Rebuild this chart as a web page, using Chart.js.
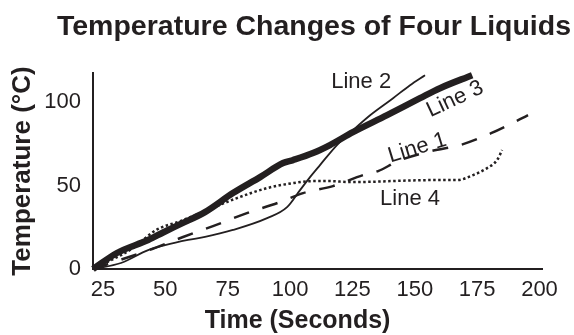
<!DOCTYPE html>
<html><head><meta charset="utf-8">
<script src="https://cdn.jsdelivr.net/npm/chart.js@4.4.1/dist/chart.umd.min.js"></script>
<style>html,body{margin:0;padding:0;background:#fff}#wrap{width:574px;height:335px}</style>
</head><body><div id="wrap"><canvas id="c" width="574" height="335"></canvas></div>
<script>
const chartTitle = 'Temperature Changes of Four Liquids';
const xAxisTitle = 'Time (Seconds)';
const yAxisTitle = 'Temperature (°C)';
const xTickValues = [25, 50, 75, 100, 125, 150, 175, 200];
const yTickValues = [0, 50, 100];
const seriesNames = ['Line 1', 'Line 2', 'Line 3', 'Line 4'];

const line1Time = [21, 44.7, 57.1, 69.1, 82.7, 96.0, 105.2, 117.2, 129.3, 135.3, 143.3, 156.5, 168.2, 180.6, 192.2, 195.4];
const line1Temp = [0, 12.0, 19.2, 25.7, 33.5, 40.1, 45.5, 49.7, 56.3, 58.7, 64.7, 70.7, 74.3, 81.4, 89.8, 92.2];

const line2Time = [21, 32.2, 43.1, 49.9, 59.1, 65.9, 77.1, 90.8, 98.8, 104.0, 108.0, 112.0, 118.8, 125.2, 132.1, 141.3, 148.1, 154.1];
const line2Temp = [0, 3.6, 11.3, 14.3, 17.4, 19.2, 23.4, 30.5, 37.1, 47.3, 55.1, 62.3, 74.3, 83.2, 92.2, 102.4, 110.2, 116.2];

const line3Time = [21, 30.6, 43.1, 49.1, 56.0, 65.9, 77.1, 88.0, 97.2, 101.2, 109.2, 116.0, 125.2, 138.9, 152.1, 160.1, 173.0];
const line3Temp = [0, 9.6, 17.4, 21.9, 26.9, 34.1, 45.5, 55.1, 63.5, 65.3, 69.5, 74.3, 82.0, 92.2, 102.4, 108.4, 116.2];

const line4Time = [21, 37.0, 46.3, 56.0, 65.9, 78.7, 90.8, 101.2, 109.2, 116.0, 124.0, 157.3, 166.9, 173.4, 179.0, 183.0, 185.0];
const line4Temp = [0, 12.5, 23.4, 28.7, 34.7, 42.5, 48.5, 51.5, 52.7, 52.7, 52.1, 53.3, 53.3, 56.3, 60.5, 65.3, 71.3];

// label anchors in data units: [time, temperature, rotation degrees]
const labelAnchors = {
  'Line 1': [151, 72.5, -17],
  'Line 2': [128.5, 112, 0],
  'Line 3': [166.2, 101.8, -25],
  'Line 4': [148.1, 41.9, 0]
};

const pts = (xs, ys) => xs.map((x, i) => ({x: x, y: ys[i]}));
const FONT = '"Liberation Sans", Arial, Helvetica, sans-serif';
const INK = '#231f20';

const textPlugin = {
  id: 'textPlugin',
  afterDraw(chart) {
    const ctx = chart.ctx, xs = chart.scales.x, ys = chart.scales.y;
    ctx.save();
    ctx.fillStyle = INK;
    ctx.textAlign = 'center';
    // chart title
    ctx.textBaseline = 'alphabetic';
    ctx.font = 'bold 28.5px ' + FONT;
    ctx.fillText(chartTitle, 314, 35);
    // line labels
    ctx.textBaseline = 'middle';
    ctx.font = '22px ' + FONT;
    seriesNames.forEach(n => {
      const a = labelAnchors[n];
      ctx.save();
      ctx.translate(xs.getPixelForValue(a[0]), ys.getPixelForValue(a[1]));
      ctx.rotate(a[2] * Math.PI / 180);
      ctx.fillText(n, 0, 0);
      ctx.restore();
    });
    // x axis title
    ctx.font = 'bold 25px ' + FONT;
    ctx.fillText(xAxisTitle, xs.getPixelForValue(103), 321);
    ctx.restore();
  }
};

new Chart(document.getElementById('c'), {
  type: 'line',
  data: {
    datasets: [
      {label: 'Line 3', data: pts(line3Time, line3Temp), borderColor: INK, borderWidth: 6.5, borderCapStyle: 'butt', borderJoinStyle: 'round'},
      {label: 'Line 2', data: pts(line2Time, line2Temp), borderColor: INK, borderWidth: 1.8},
      {label: 'Line 1', data: pts(line1Time, line1Temp), borderColor: INK, borderWidth: 2.5, borderDash: [16, 14], borderCapStyle: 'butt'},
      {label: 'Line 4', data: pts(line4Time, line4Temp), borderColor: INK, borderWidth: 2.5, borderDash: [2.5, 2.5], borderCapStyle: 'butt'}
    ]
  },
  options: {
    responsive: false,
    animation: false,
    events: [],
    elements: {
      point: {radius: 0},
      line: {cubicInterpolationMode: 'monotone', fill: false}
    },
    datasets: {line: {clip: false}},
    layout: {padding: {left: 0, right: 32, top: 73, bottom: 0}},
    plugins: {
      legend: {display: false},
      tooltip: {enabled: false},
      title: {display: false}
    },
    scales: {
      x: {
        type: 'linear',
        min: 21, max: 201,
        afterBuildTicks: s => { s.ticks = xTickValues.map(v => ({value: v})); },
        afterFit: s => { s.height = 66; },
        grid: {display: false, drawTicks: false},
        border: {display: true, color: INK, width: 2},
        ticks: {color: INK, font: {family: FONT, size: 22}, padding: 8, maxRotation: 0, autoSkip: false}
      },
      y: {
        type: 'linear',
        min: 0, max: 117.5,
        afterBuildTicks: s => { s.ticks = yTickValues.map(v => ({value: v})); },
        afterFit: s => { s.width = 93; },
        grid: {display: false, drawTicks: false},
        border: {display: true, color: INK, width: 2},
        ticks: {color: INK, font: {family: FONT, size: 22}, padding: 12},
        title: {display: true, text: yAxisTitle, color: INK, font: {family: FONT, size: 26, weight: 'bold', lineHeight: 1.2}, padding: {top: 7, bottom: 0}}
      }
    }
  },
  plugins: [textPlugin]
});
</script></body></html>
